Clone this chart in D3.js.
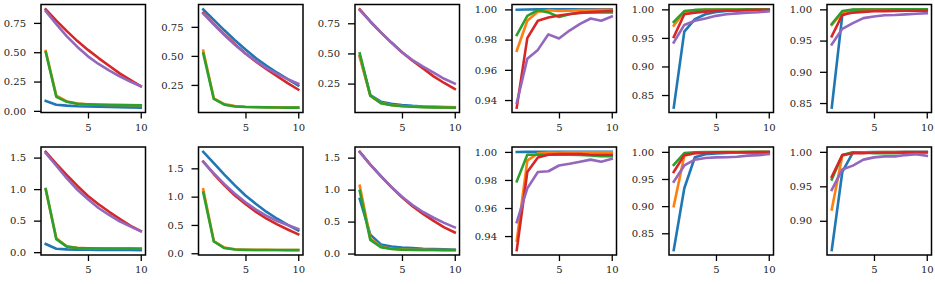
<!DOCTYPE html>
<html>
<head>
<meta charset="utf-8">
<title>loss / accuracy grid</title>
<script src="https://d3js.org/d3.v7.min.js"></script>
<style>
  body { margin: 0; background: #fff; }
  svg { display: block; }
  .tick text { font-family: "DejaVu Serif", serif; font-size: 10px; fill: #222; }
  .tick line { stroke: #000; stroke-width: 1.3px; }
  .domain { display: none; }
  .frame { fill: none; stroke: #000; stroke-width: 1.5px; }
  .series { fill: none; stroke-width: 2.6px; stroke-linejoin: round; stroke-linecap: square; }
</style>
</head>
<body>
<svg width="935" height="284"></svg>
<script>
    var epochs = [1, 2, 3, 4, 5, 6, 7, 8, 9, 10];
    var xTicks = [5, 10];
    // tab10: blue, orange, green, red, purple (drawn in that order)
    var colors = ["#1f77b4", "#ff7f0e", "#2ca02c", "#d62728", "#9467bd"];

    // ---- top row ----
    var lossA = [
        [0.085, 0.052, 0.045, 0.040, 0.037, 0.035, 0.033, 0.031, 0.030, 0.028],
        [0.51, 0.13, 0.08, 0.062, 0.056, 0.053, 0.051, 0.050, 0.049, 0.048],
        [0.50, 0.12, 0.077, 0.060, 0.055, 0.052, 0.050, 0.049, 0.048, 0.047],
        [0.865, 0.77, 0.68, 0.595, 0.52, 0.45, 0.385, 0.32, 0.265, 0.21],
        [0.85, 0.74, 0.635, 0.545, 0.465, 0.40, 0.345, 0.295, 0.25, 0.21]
    ];
    var lossB = [
        [0.90, 0.81, 0.72, 0.635, 0.555, 0.48, 0.415, 0.355, 0.30, 0.245],
        [0.545, 0.135, 0.085, 0.068, 0.062, 0.060, 0.058, 0.057, 0.056, 0.056],
        [0.52, 0.13, 0.08, 0.065, 0.060, 0.058, 0.057, 0.056, 0.055, 0.055],
        [0.87, 0.775, 0.685, 0.60, 0.52, 0.45, 0.385, 0.325, 0.265, 0.21],
        [0.865, 0.77, 0.68, 0.595, 0.52, 0.455, 0.395, 0.345, 0.30, 0.26]
    ];
    var lossC = [
        [0.48, 0.155, 0.10, 0.082, 0.072, 0.065, 0.060, 0.057, 0.055, 0.053],
        [0.47, 0.15, 0.09, 0.072, 0.064, 0.060, 0.057, 0.055, 0.054, 0.053],
        [0.50, 0.15, 0.088, 0.070, 0.062, 0.058, 0.055, 0.053, 0.052, 0.051],
        [0.865, 0.765, 0.675, 0.59, 0.51, 0.44, 0.375, 0.31, 0.255, 0.205],
        [0.86, 0.765, 0.675, 0.59, 0.51, 0.445, 0.39, 0.34, 0.29, 0.25]
    ];
    var accA = [
        [0.9998, 0.9999, 1.0, 1.0, 1.0, 1.0, 1.0, 1.0, 1.0, 1.0],
        [0.9726, 0.9925, 0.9985, 0.9995, 0.9990, 0.9992, 0.9995, 0.9996, 0.9997, 0.9997],
        [0.983, 0.9957, 0.9995, 0.998, 0.9950, 0.9968, 0.998, 0.998, 0.998, 0.998],
        [0.935, 0.981, 0.9925, 0.9946, 0.996, 0.997, 0.9977, 0.9982, 0.9986, 0.999],
        [0.938, 0.9674, 0.9732, 0.9835, 0.9807, 0.986, 0.9904, 0.994, 0.9925, 0.9953]
    ];
    var accB = [
        [0.828, 0.961, 0.983, 0.9915, 0.9955, 0.997, 0.998, 0.9985, 0.999, 0.9992],
        [0.9716, 0.9955, 0.998, 0.999, 0.9993, 0.9995, 0.9996, 0.9997, 0.9997, 0.9998],
        [0.978, 0.997, 0.999, 0.9995, 0.9997, 0.9998, 0.9998, 0.9999, 0.9999, 0.9999],
        [0.9517, 0.9915, 0.9943, 0.996, 0.997, 0.998, 0.998, 0.9988, 0.999, 0.9992],
        [0.942, 0.9727, 0.980, 0.984, 0.9886, 0.9915, 0.993, 0.9943, 0.995, 0.9966]
    ];
    var accC = [
        [0.8427, 0.9906, 0.999, 0.9995, 0.9997, 0.9998, 0.9998, 0.9999, 0.9999, 0.9999],
        [0.975, 0.995, 0.999, 0.9993, 0.9995, 0.9996, 0.9997, 0.9997, 0.9998, 0.9998],
        [0.9766, 0.9974, 0.9995, 0.9997, 0.9998, 0.9998, 0.9999, 0.9999, 0.9999, 0.9999],
        [0.9568, 0.9911, 0.9948, 0.996, 0.997, 0.9972, 0.9976, 0.9978, 0.998, 0.998],
        [0.9438, 0.9688, 0.978, 0.986, 0.9885, 0.9906, 0.991, 0.992, 0.993, 0.9938]
    ];

    // ---- bottom row ----
    var lossD = [
        [0.13, 0.055, 0.045, 0.040, 0.038, 0.036, 0.035, 0.034, 0.034, 0.033],
        [0.99, 0.22, 0.09, 0.068, 0.062, 0.060, 0.058, 0.057, 0.056, 0.056],
        [1.0, 0.207, 0.088, 0.065, 0.060, 0.058, 0.057, 0.056, 0.056, 0.055],
        [1.59, 1.40, 1.22, 1.05, 0.89, 0.76, 0.64, 0.53, 0.42, 0.335],
        [1.57, 1.37, 1.17, 0.99, 0.84, 0.70, 0.59, 0.49, 0.41, 0.33]
    ];
    var lossE = [
        [1.79, 1.59, 1.39, 1.20, 1.02, 0.87, 0.73, 0.61, 0.50, 0.40],
        [1.13, 0.215, 0.10, 0.070, 0.063, 0.060, 0.059, 0.058, 0.058, 0.058],
        [1.073, 0.208, 0.092, 0.066, 0.060, 0.058, 0.057, 0.057, 0.056, 0.056],
        [1.62, 1.40, 1.20, 1.02, 0.87, 0.73, 0.61, 0.51, 0.42, 0.335],
        [1.615, 1.41, 1.22, 1.05, 0.90, 0.77, 0.66, 0.57, 0.50, 0.43]
    ];
    var lossF = [
        [0.857, 0.296, 0.143, 0.11, 0.095, 0.085, 0.075, 0.070, 0.065, 0.060],
        [1.06, 0.24, 0.11, 0.075, 0.065, 0.060, 0.058, 0.056, 0.055, 0.055],
        [0.98, 0.214, 0.10, 0.070, 0.062, 0.058, 0.056, 0.055, 0.054, 0.054],
        [1.59, 1.39, 1.21, 1.04, 0.88, 0.74, 0.62, 0.51, 0.41, 0.33],
        [1.59, 1.39, 1.21, 1.04, 0.89, 0.76, 0.65, 0.56, 0.48, 0.41]
    ];
    var accD = [
        [0.9999, 1.0, 1.0, 1.0, 1.0, 1.0, 1.0, 1.0, 1.0, 1.0],
        [0.9368, 0.9938, 0.999, 0.9995, 0.9996, 0.9997, 0.9997, 0.9998, 0.9998, 0.9998],
        [0.979, 0.998, 0.998, 0.998, 0.998, 0.998, 0.9978, 0.9975, 0.997, 0.997],
        [0.930, 0.9857, 0.996, 0.998, 0.9985, 0.9985, 0.9985, 0.998, 0.998, 0.998],
        [0.950, 0.974, 0.9857, 0.9862, 0.9903, 0.9915, 0.993, 0.9945, 0.993, 0.995]
    ];
    var accE = [
        [0.819, 0.933, 0.990, 0.9958, 0.997, 0.998, 0.999, 0.999, 0.999, 0.999],
        [0.90, 0.9928, 0.998, 0.999, 0.9993, 0.9995, 0.9996, 0.9997, 0.9997, 0.9998],
        [0.976, 0.9976, 0.999, 0.9995, 0.9997, 0.9998, 0.9998, 0.9999, 0.9999, 0.9999],
        [0.9628, 0.994, 0.9976, 0.998, 0.999, 0.9992, 0.9993, 0.9994, 0.9995, 0.9995],
        [0.945, 0.975, 0.9856, 0.9886, 0.9898, 0.990, 0.991, 0.993, 0.994, 0.9958]
    ];
    var accF = [
        [0.8575, 0.9708, 0.999, 0.9995, 0.9997, 0.9998, 0.9998, 0.9999, 0.9999, 0.9999],
        [0.9165, 0.9943, 0.999, 0.9993, 0.9995, 0.9996, 0.9997, 0.9997, 0.9998, 0.9998],
        [0.96, 0.9953, 0.9995, 0.999, 0.998, 0.998, 0.998, 0.999, 0.9995, 0.9995],
        [0.9637, 0.9953, 0.998, 0.998, 0.999, 0.999, 0.999, 0.9992, 0.9993, 0.9993],
        [0.9448, 0.9745, 0.980, 0.9887, 0.992, 0.9934, 0.9934, 0.9953, 0.9967, 0.9943]
    ];

    // y tick labels, as printed
    var ticksLossA = ["0.00", "0.25", "0.50", "0.75"];
    var ticksLossB = ["0.25", "0.50", "0.75"];
    var ticksLossC = ["0.25", "0.50", "0.75"];
    var ticksAccA = ["0.94", "0.96", "0.98", "1.00"];
    var ticksAccB = ["0.85", "0.90", "0.95", "1.00"];
    var ticksAccC = ["0.85", "0.90", "0.95", "1.00"];
    var ticksLossD = ["0.0", "0.5", "1.0", "1.5"];
    var ticksLossE = ["0.0", "0.5", "1.0", "1.5"];
    var ticksLossF = ["0.0", "0.5", "1.0", "1.5"];
    var ticksAccD = ["0.94", "0.96", "0.98", "1.00"];
    var ticksAccE = ["0.85", "0.90", "0.95", "1.00"];
    var ticksAccF = ["0.90", "0.95", "1.00"];

    var grid = [
        [[lossA, ticksLossA], [lossB, ticksLossB], [lossC, ticksLossC],
         [accA, ticksAccA], [accB, ticksAccB], [accC, ticksAccC]],
        [[lossD, ticksLossD], [lossE, ticksLossE], [lossF, ticksLossF],
         [accD, ticksAccD], [accE, ticksAccE], [accF, ticksAccF]]
    ];

    // layout of the axes boxes
    var colLeft = [41, 198.5, 355, 512, 669, 827];
    var rowTop = [4.5, 147];
    var plotW = 104.5, plotH = 108;

    var svg = d3.select("svg");

    function padded(lo, hi) {
        var m = (hi - lo) * 0.05;
        return [lo - m, hi + m];
    }

    grid.forEach(function (row, r) {
        row.forEach(function (cell, c) {
            var series = cell[0], ticks = cell[1];
            var g = svg.append("g")
                .attr("transform", "translate(" + colLeft[c] + "," + rowTop[r] + ")");

            var x = d3.scaleLinear()
                .domain(padded(d3.min(epochs), d3.max(epochs)))
                .range([0, plotW]);
            var all = d3.merge(series);
            var y = d3.scaleLinear()
                .domain(padded(d3.min(all), d3.max(all)))
                .range([plotH, 0]);

            var line = d3.line()
                .x(function (d, i) { return x(epochs[i]); })
                .y(function (d) { return y(d); });

            g.selectAll("path.series")
                .data(series)
                .enter().append("path")
                .attr("class", "series")
                .attr("stroke", function (d, i) { return colors[i]; })
                .attr("d", line);

            g.append("g")
                .attr("transform", "translate(0," + plotH + ")")
                .call(d3.axisBottom(x).tickValues(xTicks).tickSize(6).tickPadding(5)
                    .tickFormat(d3.format("d")));

            g.append("g")
                .call(d3.axisLeft(y).tickValues(ticks.map(Number)).tickSize(7).tickPadding(8)
                    .tickFormat(function (d, i) { return ticks[i]; }));

            g.append("rect")
                .attr("class", "frame")
                .attr("width", plotW)
                .attr("height", plotH);
        });
    });
</script>
</body>
</html>
